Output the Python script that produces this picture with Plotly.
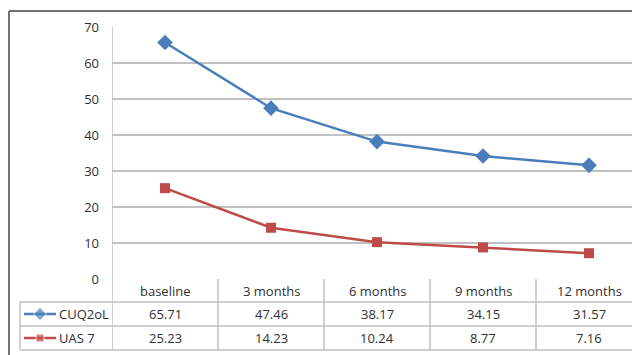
import plotly.graph_objects as go

categories = ["baseline", "3 months", "6 months", "9 months", "12 months"]
series_names = ["CUQ2oL", "UAS 7"]
cuq2ol = [65.71, 47.46, 38.17, 34.15, 31.57]
uas7 = [25.23, 14.23, 10.24, 8.77, 7.16]
y_ticks = [0, 10, 20, 30, 40, 50, 60, 70]

# page body has an 8px margin; size the figure to fit in the 640x355 window
OFF = 8
W, H = 640 - OFF, 355 - OFF
def py(p):  # reference pixel-from-top -> paper y
    return 1 - (p - OFF) / H
def px(p):  # reference pixel-from-left -> paper x
    return (p - OFF) / W

BLUE = "#4A7EBB"
RED = "#BE4B48"
GRID = "#C0C0C0"
TXT = "#303030"
FONT = "Open Sans"

plot_left, plot_top, plot_bottom = 112, 27, 279
cat_w = 106
right_px = 640
x_hi = -0.5 + (right_px - plot_left) / cat_w

fig = go.Figure()
series = [(series_names[0], cuq2ol, BLUE, "diamond", 12),
          (series_names[1], uas7, RED, "square", 10)]
for name, vals, col, sym, sz in series:
    fig.add_trace(go.Scatter(
        x=list(range(len(categories))), y=vals, mode="lines+markers", name=name,
        line=dict(color=col, width=2.5),
        marker=dict(symbol=sym, size=sz, color=col),
        xaxis="x", yaxis="y", cliponaxis=False, showlegend=False))

# legend keys in the table's first column
row_centers = [0.75, 0.25]
for (name, vals, col, sym, sz), rc in zip(series, row_centers):
    fig.add_trace(go.Scatter(
        x=[4, 20, 36], y=[rc, rc, rc], mode="lines+markers",
        line=dict(color=col, width=2.5),
        marker=dict(symbol=sym, size=[0, sz - 2, 0], color=col),
        xaxis="x2", yaxis="y2", showlegend=False, hoverinfo="skip"))

tab_bottom, row2_top, row1_top = 350, 326, 302
leg_left = 20

fig.update_layout(
    template="none",
    width=W, height=H, margin=dict(l=0, r=0, t=0, b=0, pad=0, autoexpand=False),
    paper_bgcolor="white", plot_bgcolor="white",
    font=dict(family=FONT, size=13, color=TXT),
    xaxis=dict(domain=[px(plot_left), 1], range=[-0.5, x_hi], automargin=False,
               showticklabels=False, showgrid=False, zeroline=False,
               showline=False, fixedrange=True),
    yaxis=dict(domain=[py(plot_bottom), py(plot_top)], range=[0, 70], automargin=False,
               tickvals=y_ticks, ticktext=[str(v) for v in y_ticks],
               showgrid=True, gridcolor=GRID, gridwidth=1.5,
               zeroline=False, showline=False, ticks="",
               ticklabelstandoff=12, tickfont=dict(size=13, color=TXT)),
    xaxis2=dict(domain=[px(leg_left), px(plot_left)], range=[0, plot_left - leg_left],
                visible=False, anchor="y2", automargin=False),
    yaxis2=dict(domain=[py(tab_bottom), py(row1_top)], range=[0, 1],
                visible=False, anchor="x2", automargin=False),
)

shapes = []
# outer chart frame
shapes.append(dict(type="line", xref="paper", yref="paper", x0=px(9), x1=1.01,
                   y0=py(11), y1=py(11), line=dict(color="#444444", width=1.5)))
shapes.append(dict(type="line", xref="paper", yref="paper", x0=px(9), x1=px(9),
                   y0=py(11), y1=-0.01, line=dict(color="#444444", width=1.5)))
# left value axis line extending through the table
shapes.append(dict(type="line", xref="x", yref="paper", x0=-0.5, x1=-0.5,
                   y0=py(tab_bottom), y1=py(plot_top), line=dict(color=GRID, width=1.5)))
# column separators
for i in range(1, len(categories) + 1):
    shapes.append(dict(type="line", xref="x", yref="paper", x0=i - 0.5, x1=i - 0.5,
                       y0=py(tab_bottom), y1=py(plot_bottom), line=dict(color=GRID, width=1.5)))
# legend column left border
shapes.append(dict(type="line", xref="paper", yref="paper", x0=px(leg_left), x1=px(leg_left),
                   y0=py(tab_bottom), y1=py(row1_top), line=dict(color=GRID, width=1.5)))
# horizontal table lines
for yy in [row1_top, row2_top, tab_bottom]:
    shapes.append(dict(type="line", xref="paper", yref="paper", x0=px(leg_left), x1=1,
                       y0=py(yy), y1=py(yy), line=dict(color=GRID, width=1.5)))
fig.update_layout(shapes=shapes)

ann = []
hdr_c = (plot_bottom + row1_top) / 2
r1_c = (row1_top + row2_top) / 2
r2_c = (row2_top + tab_bottom) / 2
for i, c in enumerate(categories):
    for txt, yc in [(c, hdr_c), (f"{cuq2ol[i]:.2f}", r1_c), (f"{uas7[i]:.2f}", r2_c)]:
        ann.append(dict(x=i, y=py(yc), xref="x", yref="paper", text=txt, showarrow=False,
                        xanchor="center", yanchor="middle", font=dict(size=13, color=TXT)))
for name, yc in zip(series_names, [r1_c, r2_c]):
    ann.append(dict(x=px(57), y=py(yc), xref="paper", yref="paper", text=name,
                    showarrow=False, xanchor="left", yanchor="middle",
                    font=dict(size=13, color=TXT)))
fig.update_layout(annotations=ann)

fig.write_html("out.html")
